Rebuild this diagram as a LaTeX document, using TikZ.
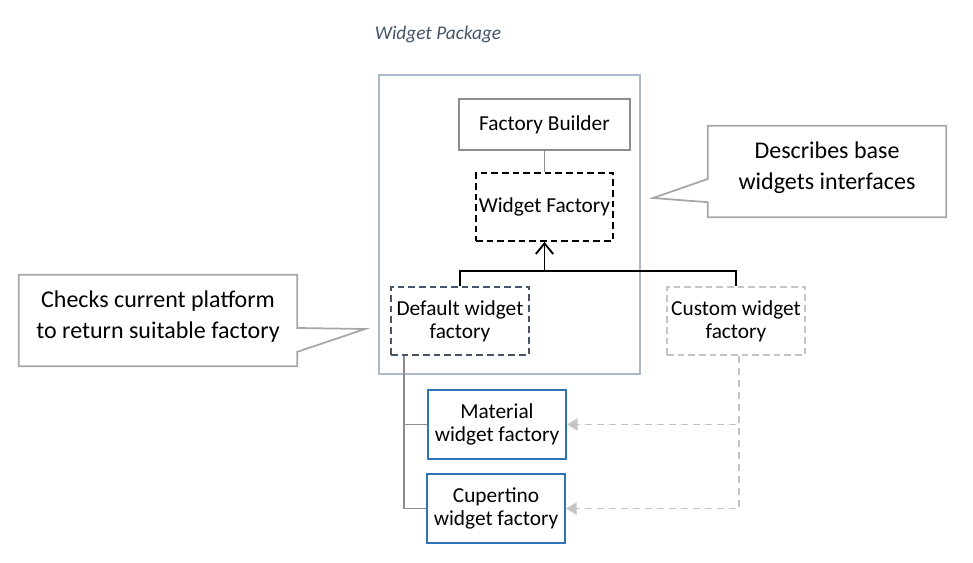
\documentclass[tikz,border=0pt]{standalone}
\usepackage{fontspec}
\setmainfont{Carlito}
\usetikzlibrary{arrows, arrows.meta}
\definecolor{slate}{HTML}{44546A}
\definecolor{frameblue}{HTML}{ADB9CA}
\definecolor{midgray}{HTML}{8C8C8C}
\definecolor{lightgray}{HTML}{C4C4C4}
\definecolor{callgray}{HTML}{A6A6A6}
\definecolor{matblue}{HTML}{2E75B6}
\tikzstyle{boxtext} = [align=center, font=\fontsize{16}{17.5}\selectfont, inner sep=0pt]
\tikzstyle{graybox} = [boxtext, rectangle, minimum width=128.25pt, minimum height=38.25pt, draw=midgray, line width=1.4pt]
\tikzstyle{dashbox} = [boxtext, rectangle, minimum width=103.5pt, minimum height=51pt, line width=1.3pt, dash pattern=on 5pt off 3pt]
\tikzstyle{bluebox} = [boxtext, rectangle, minimum width=103.5pt, minimum height=51.75pt, draw=matblue, line width=1.4pt]
\tikzstyle{callbox} = [rectangle, minimum height=68.25pt]
\tikzstyle{calltext} = [align=center, font=\fontsize{18}{23}\selectfont, inner sep=0pt]
\tikzstyle{callout} = [draw=callgray, line width=1.3pt]
\tikzstyle{link} = [draw=midgray, line width=1.4pt]
\tikzstyle{arrow} = [line width=1.4pt, -{Straight Barb[length=8pt, width=13pt]}]
\tikzstyle{dasharrow} = [draw=lightgray, line width=1.3pt, dash pattern=on 5pt off 4pt, -{Triangle[length=8pt, width=9pt]}]

\begin{document}
\begin{tikzpicture}[x=0.75pt, y=-0.75pt]
  \useasboundingbox (0,0) rectangle (973,562);
  \node (title) at (438,34) [text=slate, font=\fontsize{14.5}{17}\selectfont\itshape] {Widget Package};
  \node (pkg) at (509.5,224.5) [draw=frameblue, line width=1.5pt, minimum width=195.75pt, minimum height=224.25pt] {};

  \node (fb) at (544.5,124.5) [graybox] {Factory Builder};
  \node (wf) [dashbox, draw=black, minimum width=102.75pt, below of=fb, node distance=61.875pt] {Widget Factory};
  \node (dflt) at (460,321) [dashbox, draw=slate] {Default widget\\factory};
  \node (cust) [dashbox, draw=lightgray, right of=dflt, node distance=207pt] {Custom widget\\factory};
  \node (mat) at (497,424.5) [bluebox] {Material\\widget factory};
  \node (cup) [bluebox, below of=mat, node distance=63pt, xshift=-0.75pt] {Cupertino\\widget factory};

  % callouts
  \node (chk) at (158,320.5) [callbox, minimum width=208.5pt] {};
  \node (chktext) at ([yshift=3pt]chk) [calltext] {Checks current platform\\to return suitable factory};
  \node (dsc) at (827,171.5) [callbox, minimum width=178.5pt] {};
  \node (dsctext) at ([yshift=3pt]dsc) [calltext] {Describes base\\widgets interfaces};
  \coordinate (chktip) at (365,329);
  \coordinate (dsctip) at (653,198);
  \draw [callout] (chk.north west) -- (chk.north east) -- ([yshift=-5.6pt]chk.east) -- (chktip)
    -- ([yshift=-23.5pt]chk.east) -- (chk.south east) -- (chk.south west) -- cycle;
  \draw [callout] (dsc.north east) -- (dsc.north west) -- ([yshift=-5.6pt]dsc.west) -- (dsctip)
    -- ([yshift=-23pt]dsc.west) -- (dsc.south west) -- (dsc.south east) -- cycle;

  % connectors
  \coordinate (jn) at (544.5,271);
  \draw [link] (fb) -- (wf);
  \draw [line width=1.4pt] (dflt.north) |- (jn) -| (cust.north);
  \draw [arrow] (jn) -- (wf.south);
  \draw [link] ([xshift=10.5pt]dflt.south west) |- (mat.west);
  \draw [link] ([xshift=10.5pt]dflt.south west) |- (cup.west);
  \draw [dasharrow] ([xshift=2.25pt]cust.south) |- (mat.east);
  \draw [dasharrow] ([xshift=2.25pt]cust.south) |- (cup.east);
\end{tikzpicture}
\end{document}
